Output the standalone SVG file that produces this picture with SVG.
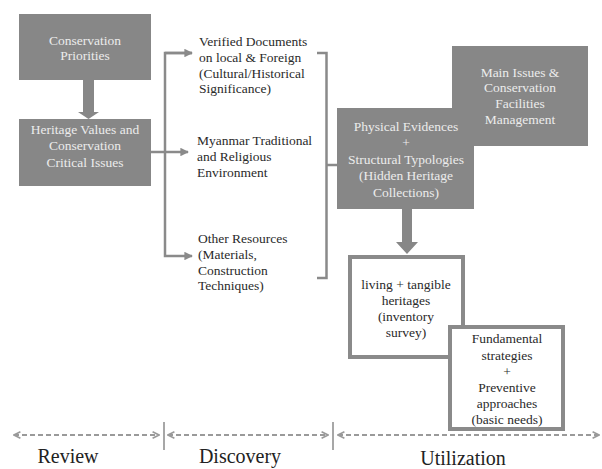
<svg xmlns="http://www.w3.org/2000/svg" width="602" height="469" viewBox="0 0 602 469">
<defs>
<style>
.box{fill:#878787;}
.obox{fill:#ffffff;stroke:#8a8a8a;stroke-width:4;}
.wt{font-family:"Liberation Serif","Times New Roman",serif;font-size:13.5px;fill:#ececec;text-anchor:middle;}
.dt{font-family:"Liberation Serif","Times New Roman",serif;font-size:13.5px;fill:#2a2a2a;}
.ct{text-anchor:middle;}
.lab{font-family:"Liberation Serif","Times New Roman",serif;font-size:20px;fill:#222;text-anchor:middle;}
.con{fill:none;stroke:#8a8a8a;stroke-width:2.5;}
.dash{fill:none;stroke:#9a9a9a;stroke-width:2;stroke-dasharray:5 3;}
.sep{stroke:#8a8a8a;stroke-width:1.5;}
.big{fill:#878787;}
</style>
<marker id="ah" viewBox="0 0 10 10" refX="9" refY="5" markerWidth="3.4" markerHeight="3.4" orient="auto">
<path d="M0,0 L10,5 L0,10 Z" fill="#8a8a8a"/>
</marker>
<marker id="dh" viewBox="0 0 10 10" refX="9" refY="5" markerWidth="4" markerHeight="4" orient="auto-start-reverse">
<path d="M1,1 L9,5 L1,9" fill="none" stroke="#9a9a9a" stroke-width="2"/>
</marker>
</defs>

<g id="connectors">
<polygon class="big" points="83,80 94,80 94,112 99,112 88.5,119 78,112 83,112"/>
<polygon class="big" points="402,209 412,209 412,242 418,242 407,254 396,242 402,242"/>
<path class="con" d="M150,152 L188,152" marker-end="url(#ah)"/>
<path class="con" d="M192,53 L165,53 L165,256 L192,256" marker-end="url(#ah)"/>
<path class="con" d="M165,53 L192,53" marker-end="url(#ah)"/>
<path class="con" d="M317,53 L326.5,53 L326.5,278 L317,278"/>
<path class="con" d="M326.5,165 L337,165"/>
</g>

<g id="conservation-priorities">
<rect class="box" x="19" y="14" width="132" height="66"/>
<text class="wt" x="85" y="45">Conservation</text>
<text class="wt" x="85" y="60">Priorities</text>
</g>

<g id="heritage-values">
<rect class="box" x="19" y="119" width="132" height="67"/>
<text class="wt" x="85" y="134">Heritage Values and</text>
<text class="wt" x="85" y="150">Conservation</text>
<text class="wt" x="85" y="167">Critical Issues</text>
</g>

<g id="verified-documents">
<text class="dt" x="199" y="46">Verified Documents</text>
<text class="dt" x="199" y="62">on local &amp; Foreign</text>
<text class="dt" x="199" y="78">(Cultural/Historical</text>
<text class="dt" x="199" y="93">Significance)</text>
</g>

<g id="myanmar-traditional">
<text class="dt" x="197" y="145">Myanmar Traditional</text>
<text class="dt" x="197" y="161">and Religious</text>
<text class="dt" x="197" y="177">Environment</text>
</g>

<g id="other-resources">
<text class="dt" x="198" y="243">Other Resources</text>
<text class="dt" x="198" y="259">(Materials,</text>
<text class="dt" x="198" y="275">Construction</text>
<text class="dt" x="198" y="290">Techniques)</text>
</g>

<g id="main-issues">
<rect class="box" x="452" y="46" width="136" height="100"/>
<text class="wt" x="520" y="77">Main Issues &amp;</text>
<text class="wt" x="520" y="92">Conservation</text>
<text class="wt" x="520" y="108">Facilities</text>
<text class="wt" x="520" y="124">Management</text>
</g>

<g id="physical-evidences">
<rect class="box" x="337" y="108" width="137" height="101"/>
<text class="wt" x="406" y="131">Physical Evidences</text>
<text class="wt" x="406" y="147">+</text>
<text class="wt" x="406" y="164">Structural Typologies</text>
<text class="wt" x="406" y="180">(Hidden Heritage</text>
<text class="wt" x="406" y="197">Collections)</text>
</g>

<g id="living-tangible">
<rect class="obox" x="350" y="257" width="113" height="100"/>
<text class="dt ct" x="406" y="289">living + tangible</text>
<text class="dt ct" x="406" y="305">heritages</text>
<text class="dt ct" x="406" y="321">(inventory</text>
<text class="dt ct" x="406" y="337">survey)</text>
</g>

<g id="fundamental-strategies">
<rect class="obox" x="450" y="327" width="113" height="102"/>
<text class="dt ct" x="507" y="343">Fundamental</text>
<text class="dt ct" x="507" y="360">strategies</text>
<text class="dt ct" x="507" y="376">+</text>
<text class="dt ct" x="507" y="392">Preventive</text>
<text class="dt ct" x="507" y="408">approaches</text>
<text class="dt ct" x="507" y="424">(basic needs)</text>
</g>

<g id="timeline">
<line class="sep" x1="164" y1="422" x2="164" y2="450"/>
<line class="sep" x1="333" y1="422" x2="333" y2="450"/>
<path class="dash" d="M14,435 L159,435" marker-start="url(#dh)" marker-end="url(#dh)"/>
<path class="dash" d="M168,435 L328,435" marker-start="url(#dh)" marker-end="url(#dh)"/>
<path class="dash" d="M338,435 L599,435" marker-start="url(#dh)" marker-end="url(#dh)"/>
<text class="lab" x="68" y="463">Review</text>
<text class="lab" x="240" y="463">Discovery</text>
<text class="lab" x="463" y="465">Utilization</text>
</g>
</svg>
